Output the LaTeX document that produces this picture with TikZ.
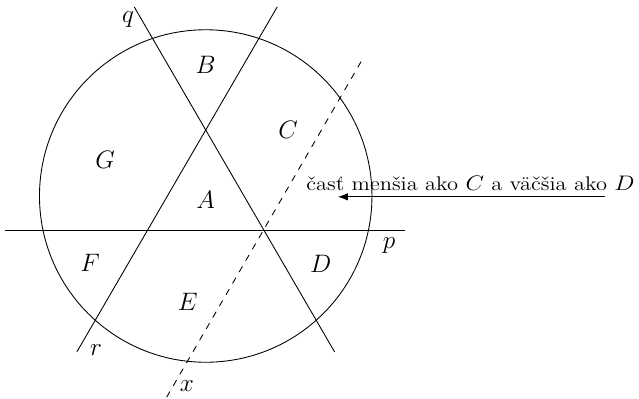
\documentclass[tikz,border=0pt]{standalone}
\usepackage{amsmath,amssymb}
\usetikzlibrary{arrows.meta}

\begin{document}
\begin{tikzpicture}[line width=0.6pt, every node/.style={font=\fontsize{17pt}{20pt}\selectfont}, >={Latex[length=2.4mm]}, lbl/.style={inner sep=1pt}]
	\useasboundingbox (-4.95,-4.884) rectangle (10.425,4.716);
	\draw (0,0) circle (4cm);
	\draw (-4.84,-0.82) -- (4.8,-0.82);
	\draw (-1.72,4.55) -- (3.1,-3.75);
	\draw (1.72,4.55) -- (-3.1,-3.75);
	\draw[dash pattern=on 4.5pt off 4.5pt] (-0.94,-4.84) -- (3.8,3.34);
	\node[lbl] (lq) at (-1.87,4.235) {$q$};
	\node[lbl] (lp) at (4.41,-1.18) {$p$};
	\node[lbl] (lr) at (-2.64,-3.705) {$r$};
	\node[lbl] (lx) at (-0.45,-4.57) {$x$};
	\node[lbl] (A) at (0,-0.1) {$A$};
	\node[lbl] (B) at (0,3.15) {$B$};
	\node[lbl] (C) at (1.98,1.59) {$C$};
	\node[lbl] (D) at (2.77,-1.64) {$D$};
	\node[lbl] (E) at (-0.43,-2.55) {$E$};
	\node[lbl] (F) at (-2.78,-1.61) {$F$};
	\node[lbl] (G) at (-2.42,0.87) {$G$};
	\node[lbl, font=\fontsize{13.5pt}{16pt}\selectfont] (note) at (6.37,0.31) {\scalebox{1.14}[1]{časť menšia ako $C$ a väčšia ako $D$}};
	\coordinate (from) at (9.61,-0.02);
	\coordinate (to) at (3.18,-0.02);
	\draw[->] (from) -- (to);
\end{tikzpicture}
\end{document}
